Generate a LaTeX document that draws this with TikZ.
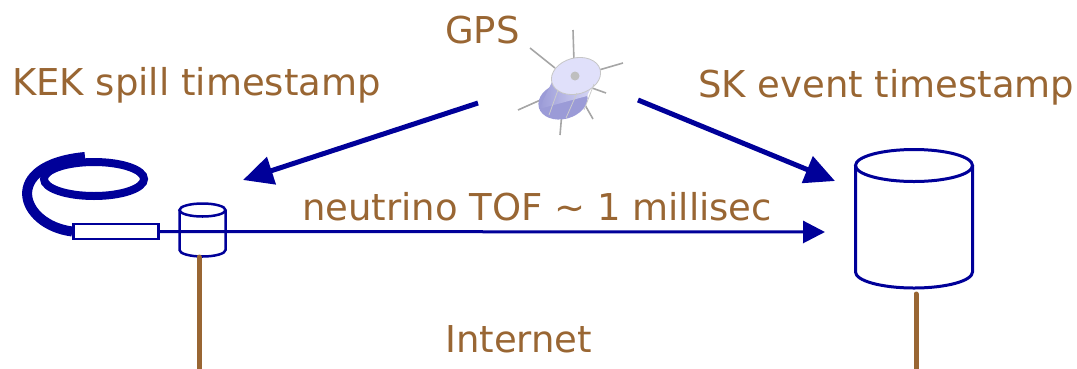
\documentclass[tikz,border=0pt]{standalone}
\usepackage{fontspec}
\setmainfont{DejaVu Sans}
\usepackage{xcolor}
\usepackage{tikz}
\usetikzlibrary{arrows.meta}

\definecolor{navy}{RGB}{0,0,153}
\definecolor{wire}{RGB}{153,102,51}
\definecolor{satlight}{RGB}{224,224,250}
\definecolor{satdark}{RGB}{155,155,215}

\begin{document}
\begin{tikzpicture}[x=1pt, y=-1pt,
        txt/.style={text=wire, font=\fontsize{37}{44}\selectfont, anchor=base west, inner sep=0pt},
        gpsarrow/.style={navy, line width=5pt, -{Triangle[length=30pt, width=28pt]}},
        cable/.style={wire, line width=5pt, line cap=round},
        antenna/.style={gray!70, line width=1.6pt}]
    \useasboundingbox (0,0) rectangle (1077,368);

    % labels
    \node[txt] (gps) at (445,43) {GPS};
    \node[txt] (kek) at (12,95) {KEK spill timestamp};
    \node[txt] (sk) at (698,97) {SK event timestamp};
    \node[txt] (tof) at (302,220) {neutrino TOF \textasciitilde{} 1 millisec};
    \node[txt] (inet) at (445,352) {Internet};

    % satellite
    \draw[antenna] (573,30) -- (574,62);
    \draw[antenna] (530,48) -- (555,68);
    \draw[antenna] (623,63) -- (592,72);
    \draw[antenna] (518,110) -- (545,98);
    \draw[antenna] (560,135) -- (562,112);
    \draw[antenna] (593,119) -- (585,105);
    \draw[antenna] (606,93) -- (592,88);
    \fill[satdark] (563,101) ellipse [x radius=25pt, y radius=18pt, rotate=15];
    \shade[left color=satdark, right color=satlight]
        (552,82) -- (600,69) -- (587,96) -- (539,109) -- cycle;
    \fill[satlight] (576,76) ellipse [x radius=25pt, y radius=18pt, rotate=15];
    \draw[gray!45, line width=0.8pt] (576,76) ellipse [x radius=25pt, y radius=18pt, rotate=15];
    \fill[gray!50] (575,76) circle (4.5pt);
    \draw[gray!40, line width=0.8pt] (558,90) -- (549,115);
    \draw[gray!40, line width=0.8pt] (577,93) -- (566,118);
    \draw[gray!40, line width=0.8pt] (594,84) -- (584,110);

    \coordinate (satl) at (478,103);
    \coordinate (satr) at (638,100);
    \coordinate (kekin) at (243,180);
    \coordinate (skin) at (835,181);
    \draw[gpsarrow] (satl) -- (kekin);
    \draw[gpsarrow] (satr) -- (skin);

    % ring and beam line
    \draw[navy, line width=8pt] (94,179) ellipse [x radius=50pt, y radius=17pt];
    \node[draw=navy, line width=2.5pt, minimum width=85pt, minimum height=15pt, inner sep=0pt] (box) at (116,231.5) {};
    \draw[navy, line width=10pt] (85,157) .. controls (0,165) and (20,225) .. (box.west);

    % small cylinder at KEK
    \fill[white] (179.5,210) -- (179.5,250) arc[start angle=180, end angle=360, x radius=23pt, y radius=6.5pt] -- (225.5,210) -- cycle;
    \draw[navy, line width=2.5pt] (202.5,210) ellipse [x radius=23pt, y radius=6.5pt];
    \draw[navy, line width=2.5pt] (179.5,210) -- (179.5,250) arc[start angle=180, end angle=360, x radius=23pt, y radius=6.5pt] -- (225.5,210);
    \coordinate (kekdb) at (199,257);
    \coordinate (kekgnd) at (199,370);

    \coordinate (tofend) at (825,232);
    \draw[navy, line width=3pt, -{Triangle[length=22pt, width=22pt]}] (box.east) -- (tofend);

    % big cylinder at SK
    \draw[navy, line width=3pt] (914,165.5) ellipse [x radius=58.5pt, y radius=16pt];
    \draw[navy, line width=3pt] (855.5,165.5) -- (855.5,272) arc[start angle=180, end angle=360, x radius=58.5pt, y radius=16pt] -- (972.5,165.5);
    \coordinate (skdb) at (916,294);
    \coordinate (skgnd) at (916,370);

    % internet cables
    \draw[cable] (kekdb) -- (kekgnd);
    \draw[cable] (skdb) -- (skgnd);
\end{tikzpicture}
\end{document}
